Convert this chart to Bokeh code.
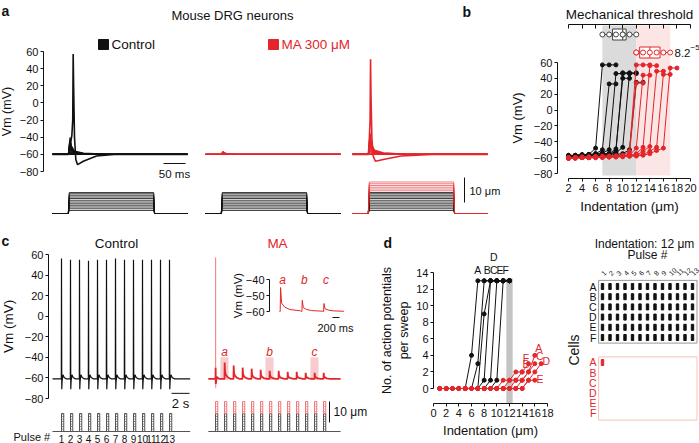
import math
import numpy as np
from bokeh.plotting import figure
from bokeh.models import Range1d, LinearAxis, FixedTicker, BoxAnnotation, Label
from bokeh.layouts import row, column
from bokeh.embed import file_html
from bokeh.resources import INLINE

FONT = "Liberation Sans"
BLK = "#111111"
RED = "#e3262b"
LRED = "#f08a8c"
GRAY = "#555555"

# ======================= DATA =======================
# ---- panel a: responses to step indentations (time ms, Vm mV) ----
a_tmpl_ms = [0, 36, 38, 40, 43, 50, 70, 120, 307]
a_tmpl_frac = [0, 0, 0.6, 1.0, 0.5, 0.2, 0.07, 0.02, 0]
a_rest_mv = -60
a_ctrl_peaks = [-60, -59, -58, -57, -55, -53, -51, -49, -46, -43, -40]
a_ma1_peaks = [-60, -59.5, -59, -58.5, -58, -57.5, -57, -56.5]
a_ma2_peaks = [-60, -58, -56, -53, -50, -47, -44, -41, -38, -35]
a_ctrl_spike_ms = [0, 36, 39, 44, 46, 47, 48, 50, 53, 57, 70, 100, 140, 307]
a_ctrl_spike_mv = [-60, -60, -52, -38, -20, 57, 20, -40, -66, -72, -68, -62, -60, -60]
a_ma2_spike_ms = [0, 36, 38, 40, 41, 42, 44, 47, 52, 70, 110, 180, 307]
a_ma2_spike_mv = [-60, -60, -45, -20, 51, 10, -40, -62, -68, -66, -62, -60, -60]
a_stim_ms = [0, 36, 38, 230, 232, 307]
a_stim_on = [0, 0, 1, 1, 0, 0]
a_steps_um = [1.2, 1.9, 2.6, 3.3, 3.9, 4.6, 5.3, 6.0, 6.6, 7.3, 7.9, 8.4]
a_ma2_extra_um = [9.1, 9.8, 10.5, 11.2, 11.9, 12.6]

# ---- panel b: Vm vs indentation for each cell ----
b_ctrl_x = [
    [2, 3, 4, 5, 6, 7, 8, 9],
    [2, 3, 4, 5, 6, 7, 8, 9],
    [2, 3, 4, 5, 6, 7, 8, 9, 10, 11],
    [2, 3, 4, 5, 6, 7, 8, 9, 10, 11],
    [2, 3, 4, 5, 6, 7, 8, 9, 10, 11, 12],
    [2, 3, 4, 5, 6, 7, 8, 9, 10, 11, 12],
    [2, 3, 4, 5, 6, 7, 8, 9, 10, 11, 12, 13],
]
b_ctrl_y = [
    [-58, -58, -57, -56, -48, 57, 57, 57],
    [-59, -58, -58, -57, -55, -50, 33, 33],
    [-57, -57, -56, -56, -55, -54, -50, 46, 46, 46],
    [-58, -58, -58, -57, -57, -56, -55, -49, 40, 40],
    [-59, -59, -58, -58, -57, -57, -56, -52, 47, 47, 47],
    [-58, -57, -57, -56, -56, -55, -55, -54, -47, 46, 46],
    [-60, -59, -59, -58, -58, -57, -57, -56, -55, -50, 35, 35],
]
b_ma_x = [
    [2, 3, 4, 5, 6, 7, 8, 9, 10, 11, 12, 13, 14],
    [2, 3, 4, 5, 6, 7, 8, 9, 10, 11, 12, 13],
    [2, 3, 4, 5, 6, 7, 8, 9, 10, 11, 12, 13, 14],
    [2, 3, 4, 5, 6, 7, 8, 9, 10, 11, 12, 13, 14, 15],
    [2, 3, 4, 5, 6, 7, 8, 9, 10, 11, 12, 13, 14, 15, 16],
    [2, 3, 4, 5, 6, 7, 8, 9, 10, 11, 12, 13, 14, 15, 16, 17],
    [2, 3, 4, 5, 6, 7, 8, 9, 10, 11, 12, 13, 14, 15, 16, 17, 18],
]
b_ma_y = [
    [-60, -60, -59, -59, -59, -58, -58, -58, -57, -52, 57, 57, 57],
    [-61, -60, -60, -60, -59, -59, -59, -58, -58, -55, 34, 34],
    [-60, -60, -60, -59, -59, -59, -59, -58, -58, -57, -48, 44, 44],
    [-60, -60, -60, -60, -59, -59, -59, -58, -58, -57, -55, -47, 56, 56],
    [-61, -61, -60, -60, -60, -59, -59, -59, -58, -58, -57, -52, -46, 49, 49],
    [-60, -60, -60, -60, -60, -59, -59, -59, -58, -58, -57, -56, -52, -47, 45, 45],
    [-61, -60, -60, -60, -60, -60, -59, -59, -59, -58, -58, -57, -55, -51, -48, 53, 53],
]
b_ctrl_thr = [7, 8, 9, 10, 10, 11, 12]
b_ma_thr = [12, 12, 13, 14, 15, 16, 17]
b_p_mantissa = "8.2"
b_p_exp = "\u22125"

# ---- panel c: 13 pulses at 1 Hz (time s, Vm mV, indentation um) ----
c_pulse_t = [1, 2, 3, 4, 5, 6, 7, 8, 9, 10, 11, 12, 13]
c_pulse_w = 0.25
c_ctrl_amp_um = 8.6
c_ma_amp_um = 14.3
c_base_mv = -61
c_ctrl_peaks = [56, 55, 55, 54, 55, 55, 56, 55, 55, 55, 55, 55, 55]
c_tail_dt = [0.03, 0.07, 0.16, 0.3, 0.55]
c_tail_mv = [-71, -63, -57, -59.5, -61]
c_trace_end_s = 15.3
c_ma_start_s = 0.2
c_ma_end_s = 14.9
c_ma_first_dt = [0, 0.01, 0.03, 0.15, 0.4]
c_ma_first_mv = [-61, -50, -66, -59, -61]
c_ma_ap_dt = [0, 0.012, 0.025]
c_ma_ap_mv = [-61, 57, -70]
c_ma_epsp_peaks = [-45, -48, -50, -51, -52, -53, -53, -54, -54, -55, -55, -55]  # pulses 2..13
c_epsp_dt = [0, 0.02, 0.06, 0.15, 0.35, 0.7]
c_epsp_frac = [0, 1, 0.45, 0.25, 0.1, 0]
c_examples = ["a", "b", "c"]
c_example_pulse = [2, 7, 12]
c_inset_rest = -60
c_inset_dt = [0, 0.02, 0.03, 0.06, 0.15, 0.3, 0.6]
c_inset_frac = [0, 0, 1, 0.35, 0.18, 0.08, 0.03]
c_inset_seg_s = 0.62

# ---- panel d: APs per sweep vs indentation ----
d_cells = ["A", "B", "C", "D", "E", "F"]
d_ctrl_x = [[5, 6, 7, 8, 9, 10, 11, 12], [6, 7, 8, 9, 10, 11, 12], [7, 8, 9, 10, 11, 12],
            [7, 8, 9, 10, 11, 12], [8, 9, 10, 11, 12], [9, 10, 11, 12]]
d_ctrl_y = [[0, 4, 13, 13, 13, 13, 13, 13], [0, 3, 13, 13, 13, 13, 13], [0, 9, 13, 13, 13, 13],
            [0, 1, 13, 13, 13, 13], [0, 1, 13, 13, 13], [0, 1, 13, 13]]
d_ma_x = [list(range(1, 17)), list(range(1, 15)), list(range(1, 17)),
          list(range(1, 18)), list(range(1, 17)), list(range(1, 16))]
d_ma_y = [[0, 0, 0, 0, 0, 0, 0, 0, 0, 0, 0, 0, 0, 1, 2, 4],
          [0, 0, 0, 0, 0, 0, 0, 0, 0, 0, 0, 1, 1, 2],
          [0, 0, 0, 0, 0, 0, 0, 0, 0, 0, 0, 0, 1, 1, 2, 3],
          [0, 0, 0, 0, 0, 0, 0, 0, 0, 0, 0, 0, 0, 0, 1, 2, 3],
          [0, 0, 0, 0, 0, 0, 0, 0, 0, 0, 0, 0, 0, 0, 1, 1],
          [0, 0, 0, 0, 0, 0, 0, 0, 0, 0, 1, 1, 2, 2, 3]]
d_max_ap = 13

# ---- raster: indentation 12 um, pulses 1..13 ----
r_indent_um = 12
r_pulses = [1, 2, 3, 4, 5, 6, 7, 8, 9, 10, 11, 12, 13]
r_ctrl = [[1, 1, 1, 1, 1, 1, 1, 1, 1, 1, 1, 1, 1],
          [1, 1, 1, 1, 1, 1, 1, 1, 1, 1, 1, 1, 1],
          [1, 1, 1, 1, 1, 1, 1, 1, 1, 1, 1, 1, 1],
          [1, 1, 1, 1, 1, 1, 1, 1, 1, 1, 1, 1, 1],
          [1, 1, 1, 1, 1, 1, 1, 1, 1, 1, 1, 1, 1],
          [1, 1, 1, 1, 1, 1, 1, 1, 1, 1, 1, 1, 1]]
r_ma = [[1, 0, 0, 0, 0, 0, 0, 0, 0, 0, 0, 0, 0],
        [0, 0, 0, 0, 0, 0, 0, 0, 0, 0, 0, 0, 0],
        [0, 0, 0, 0, 0, 0, 0, 0, 0, 0, 0, 0, 0],
        [0, 0, 0, 0, 0, 0, 0, 0, 0, 0, 0, 0, 0],
        [0, 0, 0, 0, 0, 0, 0, 0, 0, 0, 0, 0, 0],
        [0, 0, 0, 0, 0, 0, 0, 0, 0, 0, 0, 0, 0]]

# ======================= HELPERS =======================
def xrange_(a_val, a_px, k, lo, hi):
    return Range1d(start=a_val + (lo - a_px) / k, end=a_val + (hi - a_px) / k)


def yrange_(a_val, a_py, k, top, bot):
    return Range1d(start=a_val - (bot - a_py) / k, end=a_val + (a_py - top) / k)


def make_fig(w, h, xr, yr, **kw):
    p = figure(width=w, height=h, x_range=xr, y_range=yr, output_backend="svg",
               toolbar_location=None, min_border=0, **kw)
    p.outline_line_color = None
    p.grid.visible = False
    p.background_fill_color = "white"
    p.border_fill_color = "white"
    return p


def style_axis(ax, tick_fs="11px", label_fs="13px"):
    ax.axis_line_color = BLK
    ax.axis_line_width = 1
    ax.major_tick_line_color = BLK
    ax.major_tick_out = 3
    ax.major_tick_in = 0
    ax.minor_tick_line_color = None
    ax.major_label_text_font = FONT
    ax.major_label_text_font_size = tick_fs
    ax.major_label_text_color = BLK
    ax.major_label_standoff = 2
    ax.axis_label_text_font = FONT
    ax.axis_label_text_font_size = label_fs
    ax.axis_label_text_font_style = "normal"
    ax.axis_label_text_color = BLK
    ax.axis_label_standoff = 4


def minus_labels(ticks):
    return {t: (f"\u2212{abs(t)}" if t < 0 else f"{t}") for t in ticks}


def txt(p, x, y, s, size="12px", color=BLK, align="left", baseline="middle",
        style="normal", angle=0.0, xr="default", yr="default"):
    p.add_layout(Label(x=x, y=y, text=s, text_font=FONT, text_font_size=size,
                       text_color=color, text_align=align, text_baseline=baseline,
                       text_font_style=style, angle=angle,
                       x_range_name=xr, y_range_name=yr))


mv_ticks = [-80, -60, -40, -20, 0, 20, 40, 60]
SPLIT = 510  # page x where panel b begins
W, H, MID = 699, 443, 222

# ======================= PANEL A =======================
A_L, A_R, A_T, A_B = 0, SPLIT, 0, MID
A_KX = 0.44
A_KY = 120 / 140
figA = make_fig(A_R - A_L, A_B - A_T,
                xrange_(0, 52, A_KX, A_L, A_R), yrange_(60, 51, A_KY, A_T, A_B),
                x_axis_location=None)
figA.extra_x_ranges = {"ma1": xrange_(0, 205, A_KX, A_L, A_R),
                       "ma2": xrange_(0, 352, A_KX, A_L, A_R)}
figA.extra_y_ranges = {"stim": yrange_(0, 213, 2.5, A_T, A_B)}
axA = lambda px: (px - 52) / A_KX
ayA = lambda py: 60 + (51 - py) / A_KY

ya = figA.yaxis[0]
style_axis(ya, label_fs="12.5px")
ya.bounds = (-80, 60)
ya.fixed_location = axA(43)
ya.ticker = FixedTicker(ticks=mv_ticks)
ya.major_label_overrides = minus_labels(mv_ticks)
ya.axis_label = "Vm (mV)"
ya.axis_label_standoff = 3


def sweep(peak):
    return [a_rest_mv + f * (peak - a_rest_mv) for f in a_tmpl_frac]


for pk in a_ctrl_peaks:
    figA.line(a_tmpl_ms, sweep(pk), color=BLK, line_width=1.1)
figA.line(a_ctrl_spike_ms, a_ctrl_spike_mv, color=BLK, line_width=1.6)
for pk in a_ma1_peaks:
    figA.line(a_tmpl_ms, sweep(pk), color=RED, line_width=1.1, x_range_name="ma1")
for pk in a_ma2_peaks:
    figA.line(a_tmpl_ms, sweep(pk), color=RED, line_width=1.1, x_range_name="ma2")
figA.line(a_ma2_spike_ms, a_ma2_spike_mv, color=RED, line_width=1.6, x_range_name="ma2")

for rn in ("default", "ma1", "ma2"):
    for amp in a_steps_um:
        figA.line(a_stim_ms, [amp * o for o in a_stim_on], color=BLK, line_width=0.8,
                  x_range_name=rn, y_range_name="stim")
for amp in a_ma2_extra_um:
    figA.line(a_stim_ms, [amp * o for o in a_stim_on], color=RED, line_width=0.8, alpha=0.75,
              x_range_name="ma2", y_range_name="stim")

# scale bars
bar_end = axA(185)
figA.line([bar_end - 50, bar_end], [ayA(163), ayA(163)], color=BLK, line_width=1)
txt(figA, bar_end - 25, ayA(173), "50 ms", size="11.5px", align="center")
sb_x = (464 - 352) / A_KX
figA.line([sb_x, sb_x], [4.4, 14.4], color=BLK, line_width=1, x_range_name="ma2", y_range_name="stim")
txt(figA, (469 - 352) / A_KX, 9.0, "10 \u03bcm", size="11px", xr="ma2", yr="stim")

txt(figA, axA(232), ayA(15), "Mouse DRG neurons", size="13px", align="center")
figA.scatter([axA(103)], [ayA(44)], marker="square", size=10, color=BLK)
txt(figA, axA(111), ayA(44), "Control", size="13.5px")
figA.scatter([axA(273)], [ayA(44)], marker="square", size=10, color=RED)
txt(figA, axA(281), ayA(44), "MA 300 \u03bcM", size="13.5px", color=RED)
txt(figA, axA(1), ayA(2), "a", size="14px", style="bold", baseline="top")
txt(figA, axA(462), ayA(3), "b", size="14px", style="bold", baseline="top")

# ======================= PANEL B =======================
B_L, B_R, B_T, B_B = SPLIT, W, 0, MID
B_KX = (690 - 568) / 18
B_KY = (173 - 62) / 140
figB = make_fig(B_R - B_L, B_B - B_T,
                xrange_(2, 568, B_KX, B_L, B_R), yrange_(60, 62, B_KY, B_T, B_B))
axB = lambda px: 2 + (px - 568) / B_KX
ayB = lambda py: 60 + (62 - py) / B_KY
yb = figB.yaxis[0]
style_axis(yb)
yb.bounds = (-80, 60)
yb.fixed_location = axB(557)
yb.ticker = FixedTicker(ticks=mv_ticks)
yb.major_label_overrides = minus_labels(mv_ticks)
yb.axis_label = "Vm (mV)"
yb.axis_label_standoff = 6
ind_ticks = [2, 4, 6, 8, 10, 12, 14, 16, 18, 20]
xb = figB.xaxis[0]
style_axis(xb, label_fs="13.5px")
xb.bounds = (2, 20)
xb.fixed_location = ayB(178)
xb.ticker = FixedTicker(ticks=ind_ticks)
xb.axis_label = "Indentation (\u03bcm)"
xb.axis_label_standoff = 4
top_ax = LinearAxis(bounds=(2, 20), ticker=FixedTicker(ticks=ind_ticks), fixed_location=ayB(24))
style_axis(top_ax, label_fs="13.5px")
top_ax.major_tick_in = 4
top_ax.major_tick_out = 0
top_ax.major_label_overrides = {t: "" for t in ind_ticks}
top_ax.major_label_standoff = 0
top_ax.axis_label = "Mechanical threshold"
top_ax.axis_label_standoff = 3
figB.add_layout(top_ax, "above")

figB.add_layout(BoxAnnotation(left=min(b_ctrl_thr), right=max(b_ctrl_thr), top=ayB(25), bottom=ayB(175),
                              fill_color="#d2d2d2", fill_alpha=0.8, line_color=None, level="underlay"))
figB.add_layout(BoxAnnotation(left=min(b_ma_thr), right=max(b_ma_thr), top=ayB(25), bottom=ayB(175),
                              fill_color="#fbdede", fill_alpha=0.8, line_color=None, level="underlay"))


def boxplot(p, vals, yc, color, h):
    q1, med, q3 = np.percentile(vals, [25, 50, 75])
    p.line([min(vals), max(vals)], [yc, yc], color=color, line_width=1)
    p.quad(left=[q1], right=[q3], bottom=[yc - h], top=[yc + h], fill_color="white", line_color=color)
    p.segment(x0=[med], y0=[yc - h], x1=[med], y1=[yc + h], color=color)
    p.scatter(vals, [yc] * len(vals), marker="circle", size=5, fill_color="white", line_color=color)


box_h = 5.5 / B_KY
y_box_ctrl = ayB(34)
y_box_ma = ayB(52)
boxplot(figB, b_ctrl_thr, y_box_ctrl, "#444444", box_h)
boxplot(figB, b_ma_thr, y_box_ma, RED, box_h)
txt(figB, axB(674), y_box_ma, b_p_mantissa, size="11.5px")
txt(figB, axB(690), y_box_ma + 5 / B_KY, b_p_exp, size="8px")

for xs, ys in zip(b_ctrl_x, b_ctrl_y):
    figB.line(xs, ys, color=BLK, line_width=1)
    figB.scatter(xs, ys, size=4, color=BLK)
for xs, ys in zip(b_ma_x, b_ma_y):
    figB.line(xs, ys, color=RED, line_width=1)
    figB.scatter(xs, ys, size=4, color=RED)

# ======================= PANEL C =======================
C_L, C_R, C_T, C_B = 0, 380, MID, H
C_KX = 9.0
C_KY = (398 - 254) / 140
figC = make_fig(C_R - C_L, C_B - C_T,
                xrange_(0, 52, C_KX, C_L, C_R), yrange_(60, 254, C_KY, C_T, C_B))
figC.extra_x_ranges = {"ma": xrange_(0, 206, C_KX, C_L, C_R),
                       "inx": xrange_(0, 279, 35.0, C_L, C_R)}
figC.extra_y_ranges = {"stim": yrange_(0, 431, 2.1, C_T, C_B),
                       "iny": yrange_(-40, 279, 1.6, C_T, C_B)}
axC = lambda px: (px - 52) / C_KX
ayC = lambda py: 60 + (254 - py) / C_KY
axM = lambda px: (px - 206) / C_KX
axI = lambda px: (px - 279) / 35.0
ayI = lambda py: -40 + (279 - py) / 1.6

yc_ = figC.yaxis[0]
style_axis(yc_, label_fs="13.5px")
yc_.bounds = (-80, 60)
yc_.fixed_location = axC(48)
yc_.ticker = FixedTicker(ticks=mv_ticks)
yc_.major_label_overrides = minus_labels(mv_ticks)
yc_.axis_label = "Vm (mV)"
yc_.axis_label_standoff = 6
xc_ = figC.xaxis[0]
style_axis(xc_, tick_fs="10px")
xc_.fixed_location = ayC(430)
xc_.ticker = FixedTicker(ticks=c_pulse_t)
xc_.axis_line_color = None
xc_.major_tick_line_color = None
xc_.major_label_standoff = 1

# control trace
ct, cv = [0.0], [c_base_mv]
for t, pk in zip(c_pulse_t, c_ctrl_peaks):
    ct += [t - 0.02, t] + [t + d for d in c_tail_dt]
    cv += [c_base_mv, pk] + c_tail_mv
ct.append(c_trace_end_s)
cv.append(c_base_mv)
figC.line(ct, cv, color=BLK, line_width=1.2)

# MA trace
for lab, pn in zip(c_examples, c_example_pulse):
    t = c_pulse_t[pn - 1]
    figC.quad(left=[t - 0.45], right=[t + 0.45], bottom=[-62], top=[-40], fill_color="#f5c3c5",
              fill_alpha=0.85, line_color=None, x_range_name="ma")
    txt(figC, t, -35, lab, size="12px", color=RED, align="center", style="italic", xr="ma")
mt, mv = [c_ma_start_s], [c_base_mv]
t1 = c_pulse_t[0]
mt += [t1 + d for d in c_ma_first_dt]
mv += c_ma_first_mv
for t, pk in zip(c_pulse_t[1:], c_ma_epsp_peaks):
    mt += [t + d for d in c_epsp_dt]
    mv += [c_base_mv + f * (pk - c_base_mv) for f in c_epsp_frac]
mt.append(c_ma_end_s)
mv.append(c_base_mv)
figC.line([t1 + d for d in c_ma_ap_dt], c_ma_ap_mv, color=LRED, line_width=1, x_range_name="ma")
figC.line(mt, mv, color=RED, line_width=1.8, x_range_name="ma")

# stimulus pulses
rights = [t + c_pulse_w for t in c_pulse_t]
hatch = dict(hatch_pattern="horizontal_line", hatch_scale=2.5, hatch_weight=0.8, fill_color=None, line_width=1)
figC.line([0, c_trace_end_s], [0, 0], color=GRAY, line_width=1, y_range_name="stim")
figC.quad(left=c_pulse_t, right=rights, bottom=0, top=c_ctrl_amp_um, line_color=GRAY,
          hatch_color=GRAY, y_range_name="stim", **hatch)
figC.line([c_ma_start_s, c_ma_end_s], [0, 0], color=GRAY, line_width=1, x_range_name="ma", y_range_name="stim")
figC.quad(left=c_pulse_t, right=rights, bottom=0, top=c_ctrl_amp_um, line_color=GRAY,
          hatch_color=GRAY, x_range_name="ma", y_range_name="stim", **hatch)
figC.quad(left=c_pulse_t, right=rights, bottom=c_ctrl_amp_um, top=c_ma_amp_um, line_color="#ee7a7d",
          hatch_color="#ee7a7d", x_range_name="ma", y_range_name="stim", **hatch)

# scale bars
t_bar = axM(329)
figC.line([t_bar, t_bar], [c_ma_amp_um - 10, c_ma_amp_um], color=BLK, line_width=1,
          x_range_name="ma", y_range_name="stim")
txt(figC, t_bar + 0.45, c_ma_amp_um - 5, "10 \u03bcm", size="12px", xr="ma", yr="stim")
sbar_end = axC(189)
figC.line([sbar_end - 2, sbar_end], [-75, -75], color=BLK, line_width=1)
txt(figC, sbar_end - 1, ayC(403), "2 s", size="13px", align="center")

# inset
it, iv = [], []
for i, pn in enumerate(c_example_pulse):
    pk = c_ma_epsp_peaks[pn - 2]
    off = i * c_inset_seg_s
    it += [off + d for d in c_inset_dt]
    iv += [c_inset_rest + f * (pk - c_inset_rest) for f in c_inset_frac]
    txt(figC, off + 0.09, -40, c_examples[i], size="12px", color=RED, align="center",
        style="italic", xr="inx", yr="iny")
figC.line(it, iv, color=RED, line_width=1, x_range_name="inx", y_range_name="iny")
ix = axI(269)
in_ticks = [-60, -50, -40]
figC.line([ix, ix], [-60, -40], color=BLK, line_width=1, x_range_name="inx", y_range_name="iny")
figC.segment(x0=[ix] * 3, y0=in_ticks, x1=[ix - 3 / 35.0] * 3, y1=in_ticks, color=BLK,
             x_range_name="inx", y_range_name="iny")
for v, s in minus_labels(in_ticks).items():
    txt(figC, ix - 5 / 35.0, v, s, size="11px", align="right", xr="inx", yr="iny")
txt(figC, axI(237), -50, "Vm (mV)", size="11.5px", align="center", angle=math.pi / 2, xr="inx", yr="iny")
ib_end = axI(339)
figC.line([ib_end - 0.2, ib_end], [ayI(317), ayI(317)], color=BLK, line_width=1,
          x_range_name="inx", y_range_name="iny")
txt(figC, axI(335), ayI(327), "200 ms", size="11px", align="center", xr="inx", yr="iny")

txt(figC, axC(116), ayC(243), "Control", size="13.5px", align="center")
txt(figC, axM(277), ayC(243), "MA", size="13.5px", color=RED, align="center", xr="ma")
txt(figC, axC(1), ayC(232), "c", size="14px", style="bold", baseline="top")
txt(figC, axC(13), ayC(436), "Pulse #", size="11px")

# ======================= PANEL D =======================
D_L, D_R, D_T, D_B = 380, 556, MID, H
D_KX = (547 - 433) / 18
D_KY = (388 - 272) / 14
figD = make_fig(D_R - D_L, D_B - D_T,
                xrange_(0, 433, D_KX, D_L, D_R), yrange_(0, 388, D_KY, D_T, D_B))
axD = lambda px: (px - 433) / D_KX
ayD = lambda py: (388 - py) / D_KY
yd = figD.yaxis[0]
style_axis(yd, label_fs="12.5px")
yd.bounds = (0, 14)
yd.fixed_location = 0
yd.ticker = FixedTicker(ticks=[0, 2, 4, 6, 8, 10, 12, 14])
yd.axis_label = "No. of action potentials\nper sweep"
yd.axis_label_standoff = 2
xd = figD.xaxis[0]
style_axis(xd, label_fs="13px")
xd.bounds = (0, 18)
xd.fixed_location = ayD(403)
xd.ticker = FixedTicker(ticks=[0, 2, 4, 6, 8, 10, 12, 14, 16, 18])
xd.axis_label = "Indentation (\u03bcm)"
xd.axis_label_standoff = 3
figD.add_layout(BoxAnnotation(left=r_indent_um - 0.5, right=r_indent_um + 0.5, top=d_max_ap + 0.3,
                              bottom=ayD(403), fill_color="#c4c4c4", fill_alpha=1, line_color=None,
                              level="underlay"))
for xs, ys in zip(d_ctrl_x, d_ctrl_y):
    figD.line(xs, ys, color=BLK, line_width=1)
    figD.scatter(xs, ys, size=4, color=BLK)
for xs, ys in zip(d_ma_x, d_ma_y):
    figD.line(xs, ys, color=RED, line_width=1)
    figD.scatter(xs, ys, size=4, color=RED)
# letter labels (layout positions)
d_ctrl_lab_x = [7.0, 8.5, 9.5, 9.5, 10.5, 11.4]
d_ctrl_lab_y = [13.6, 13.6, 13.6, 15.1, 13.6, 13.6]
for c, x, y in zip(d_cells, d_ctrl_lab_x, d_ctrl_lab_y):
    txt(figD, x, y, c, size="10.5px", align="center", baseline="bottom")
d_ma_lab_x = [16.6, 14.6, 16.8, 17.8, 16.8, 14.6]
d_ma_lab_y = [4.9, 3.0, 3.9, 3.3, 1.2, 3.7]
for c, x, y in zip(d_cells, d_ma_lab_x, d_ma_lab_y):
    txt(figD, x, y, c, size="10.5px", color=RED, align="center")
txt(figD, axD(383), ayD(234), "d", size="14px", style="bold", baseline="top")

# ======================= RASTER =======================
E_L, E_R, E_T, E_B = 556, W, MID, H
E_KX = (692 - 602) / 12
E_ROW = 10.2
MA_OFF = 7.45
axE = lambda px: 1 + (px - 602) / E_KX
ayE = lambda py: (py - 286) / E_ROW
figE = make_fig(E_R - E_L, E_B - E_T,
                xrange_(1, 602, E_KX, E_L, E_R),
                Range1d(start=ayE(E_B), end=ayE(E_T)),
                x_axis_location="above")
xe = figE.xaxis[0]
style_axis(xe, tick_fs="7px", label_fs="12px")
xe.fixed_location = ayE(279)
xe.bounds = (1, 13)
xe.ticker = FixedTicker(ticks=r_pulses)
xe.major_label_orientation = math.pi / 4
xe.axis_line_color = None
xe.major_tick_line_color = None
xe.axis_label = "Pulse #"
xe.axis_label_standoff = 0
ye = figE.yaxis[0]
style_axis(ye, label_fs="14px")
ye.fixed_location = axE(586)
ye.ticker = FixedTicker(ticks=[])
ye.bounds = (-0.6, MA_OFF + 5.6)
ye.axis_line_color = None
ye.major_tick_line_color = None
ye.axis_label = "Cells"
ye.axis_label_standoff = 5
txt(figE, axE(644), ayE(243), f"Indentation: {r_indent_um} \u03bcm", size="12px", align="center")

n_p = len(r_pulses)
n_c = len(d_cells)
figE.quad(left=[r_pulses[0] - 0.52], right=[r_pulses[-1] + 0.6], top=[-0.6], bottom=[n_c - 1 + 0.55],
          fill_color=None, line_color="#9a9a9a", line_width=1)
figE.quad(left=[r_pulses[0] - 0.52], right=[r_pulses[-1] + 0.6], top=[MA_OFF - 0.55],
          bottom=[MA_OFF + n_c - 1 + 0.65], fill_color=None, line_color="#f6c4b4", line_width=1)
cx, cy, mx, my = [], [], [], []
for i in range(n_c):
    for j in range(n_p):
        if r_ctrl[i][j]:
            cx.append(r_pulses[j]); cy.append(i)
        if r_ma[i][j]:
            mx.append(r_pulses[j]); my.append(i + MA_OFF)
figE.rect(cx, cy, width=2.4, height=6, width_units="screen", height_units="screen", color=BLK)
figE.rect(mx, my, width=2.4, height=6, width_units="screen", height_units="screen", color=RED)
for i, c in enumerate(d_cells):
    txt(figE, axE(596), i, c, size="10.5px", align="right")
    txt(figE, axE(596), i + MA_OFF, c, size="10.5px", color=RED, align="right")

layout = column(row(figA, figB), row(figC, figD, figE))
open("out.html", "w").write(file_html(layout, INLINE, title="DRG figure"))
